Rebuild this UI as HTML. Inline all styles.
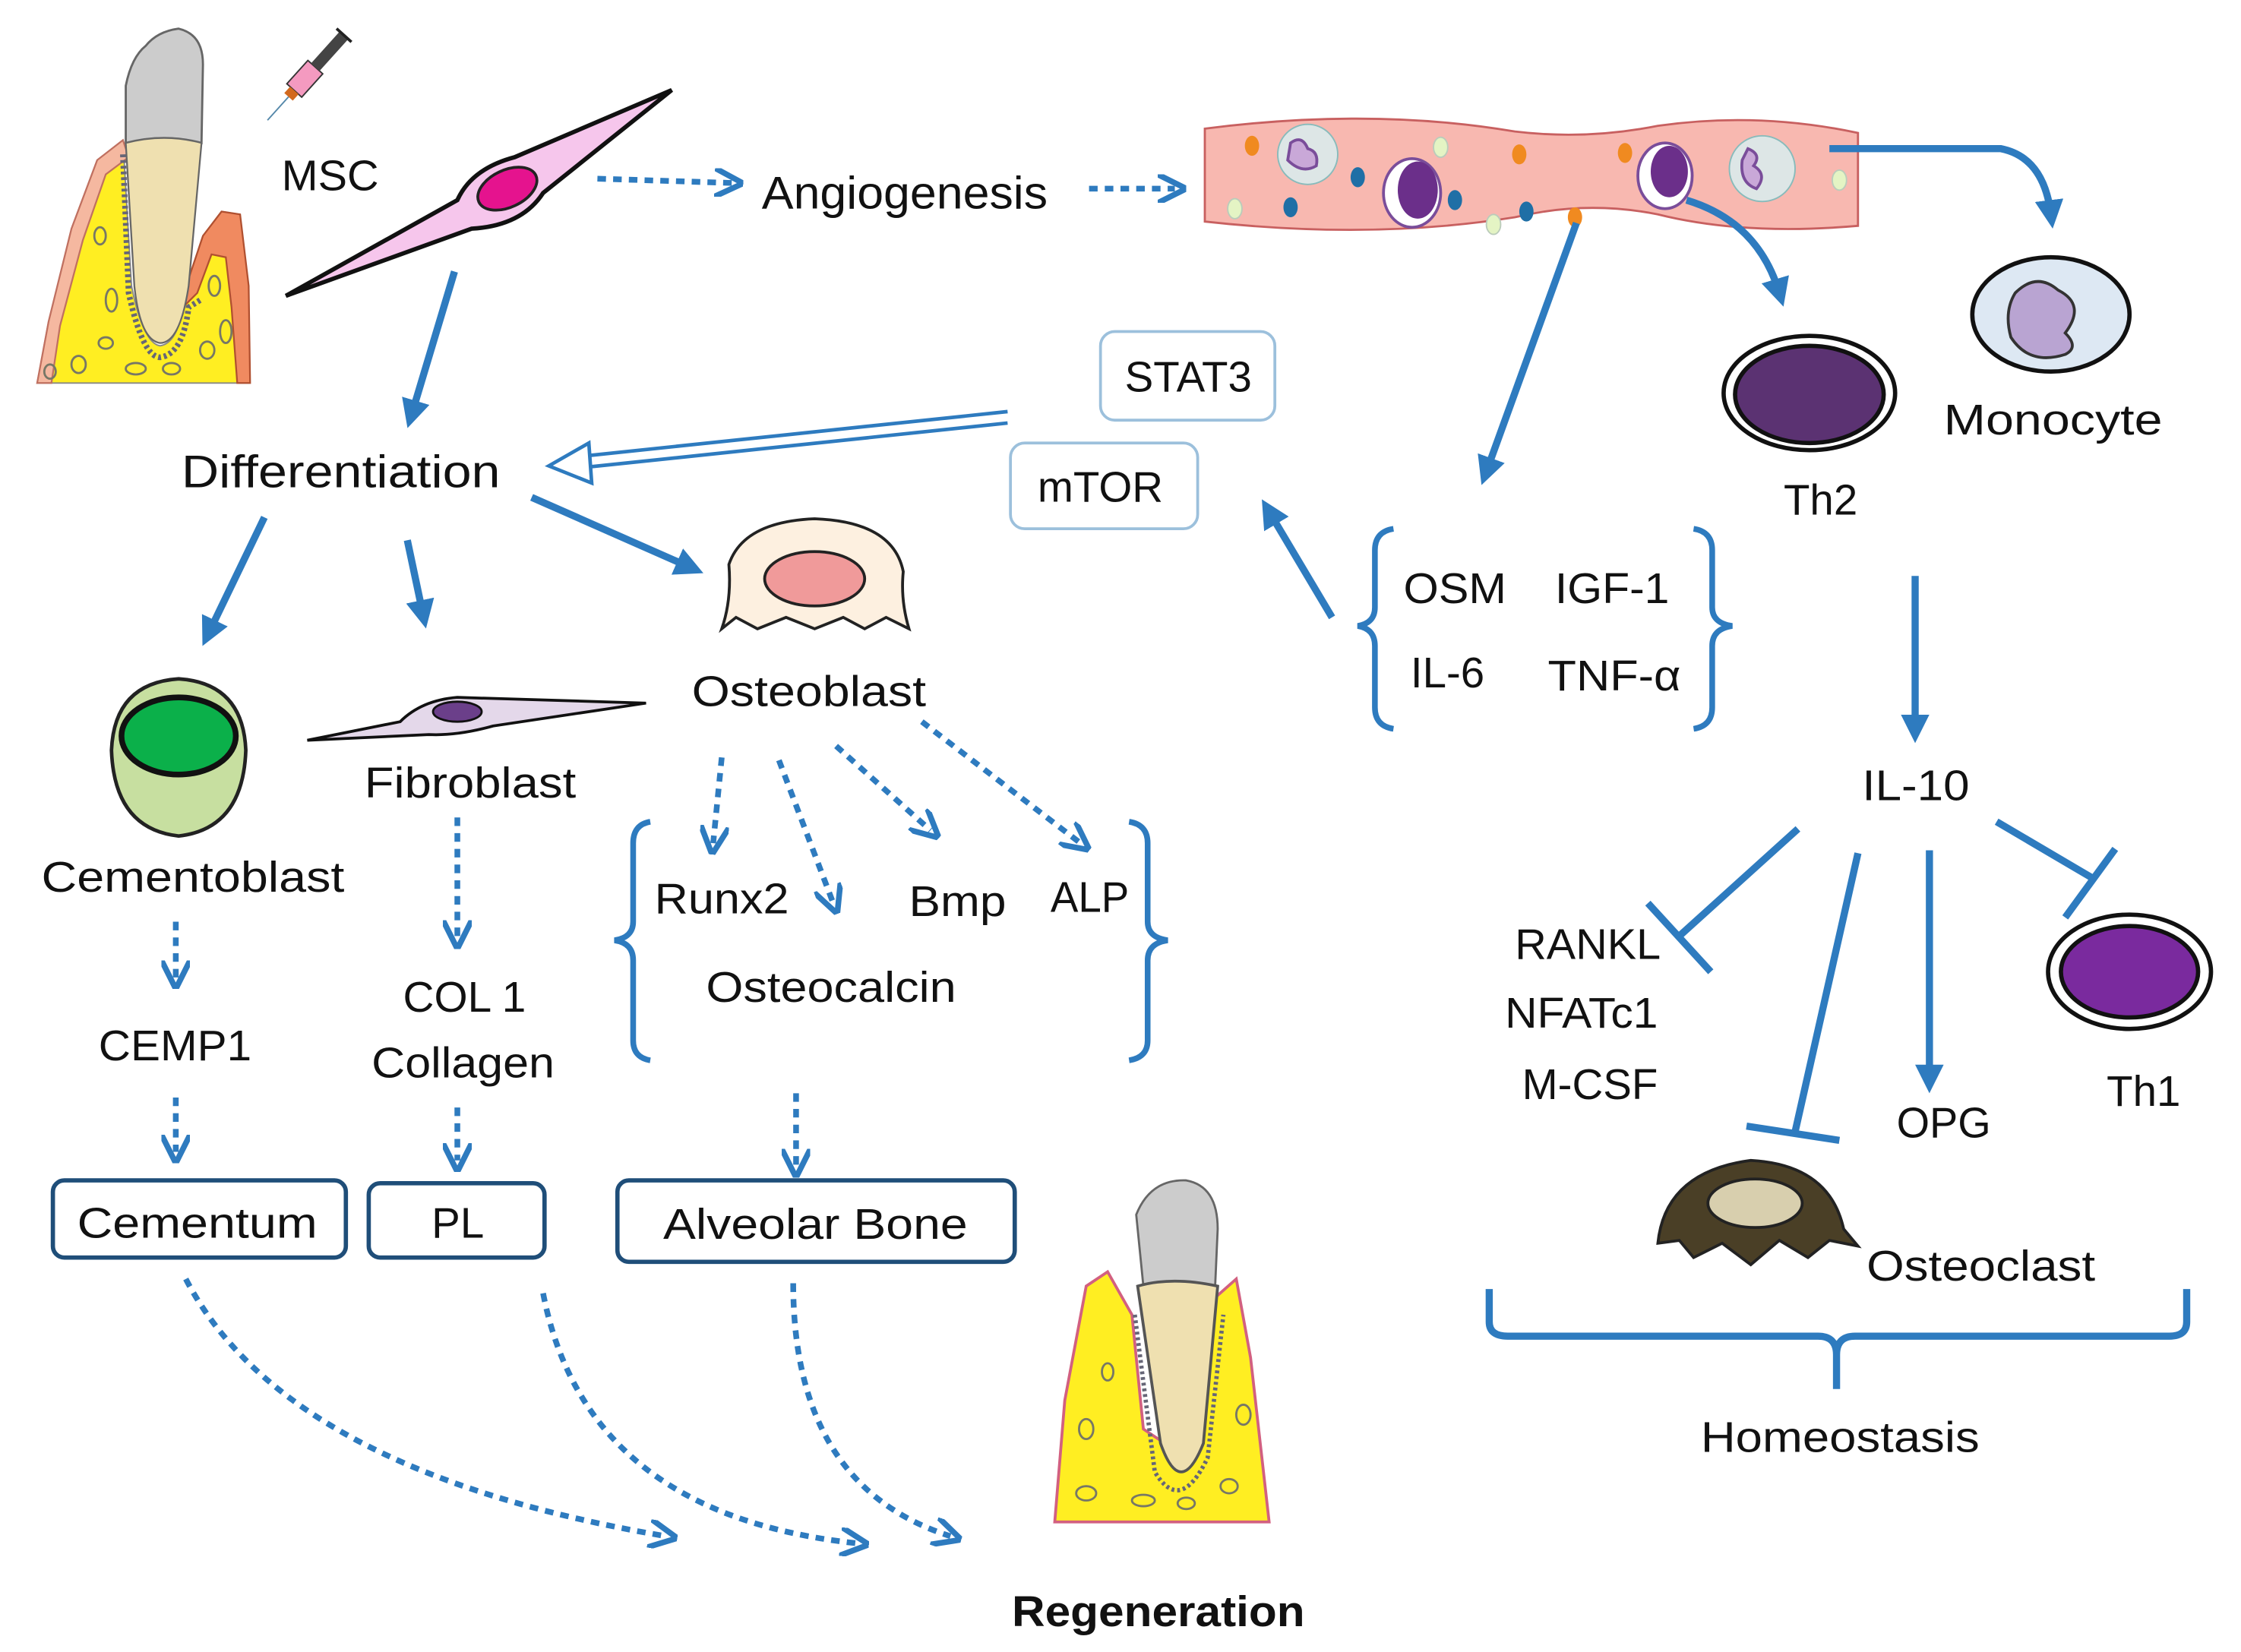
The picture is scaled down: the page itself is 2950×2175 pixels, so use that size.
<!DOCTYPE html>
<html><head><meta charset="utf-8"><style>
html,body{margin:0;padding:0;background:#fff;}
svg{display:block;}
text{font-family:"Liberation Sans",sans-serif;fill:#111;}
</style></head><body>
<svg width="2950" height="2175" viewBox="0 0 1568 1156" xmlns="http://www.w3.org/2000/svg">
<defs>
<marker id="ah" viewBox="0 0 10 10" refX="5" refY="5" markerWidth="4" markerHeight="4" orient="auto"><path d="M0,0 L10,5 L0,10 z" fill="#2e7bbf"/></marker>
<marker id="ao" viewBox="0 0 10 10" refX="6" refY="5" markerWidth="5" markerHeight="5" orient="auto"><path d="M0,0 L10,5 L0,10" fill="none" stroke="#2e7bbf" stroke-width="2"/></marker>
</defs>
<rect width="1568" height="1156" fill="#fff"/>

<!-- top-left tooth -->
<g>
<path d="M26,268 L34,225 L50,160 L68,112 L86,98 L92,200 Q100,240 112,242 Q124,240 128,215 L132,195 L142,165 L155,148 L168,150 L174,268 Z" fill="#ffee22" stroke="#888" stroke-width="1"/>
<path d="M26,268 L34,225 L50,160 L68,112 L86,98 L90,110 L74,122 L58,168 L42,228 L36,268 Z" fill="#f5b8a0" stroke="#c07060" stroke-width="1.2"/>
<path d="M128,215 L132,195 L142,165 L155,148 L168,150 L174,200 L175,268 L166,268 L162,215 L158,180 L148,178 L138,205 Z" fill="#f08a60" stroke="#b05030" stroke-width="1.2"/>
<path d="M88,100 L88,60 Q92,40 102,32 Q110,22 125,20 Q142,24 142,45 L141,100 Q115,93 88,100 Z" fill="#cccccc" stroke="#666" stroke-width="1.5"/>
<path d="M88,100 Q115,93 141,100 L132,200 Q126,240 112,240 Q98,238 94,200 Z" fill="#efe0b0" stroke="#666" stroke-width="1.2"/>
<path d="M86,108 L90,205 Q100,250 112,250 Q128,248 132,215 L140,210" fill="none" stroke="#667" stroke-width="4" stroke-dasharray="2 2"/>
<g fill="none" stroke="#776" stroke-width="1.5">
<ellipse cx="78" cy="210" rx="4" ry="8"/><ellipse cx="70" cy="165" rx="4" ry="6"/><ellipse cx="74" cy="240" rx="5" ry="4"/><ellipse cx="55" cy="255" rx="5" ry="6"/><ellipse cx="150" cy="200" rx="4" ry="7"/><ellipse cx="145" cy="245" rx="5" ry="6"/><ellipse cx="158" cy="232" rx="4" ry="8"/><ellipse cx="95" cy="258" rx="7" ry="4"/><ellipse cx="120" cy="258" rx="6" ry="4"/><ellipse cx="35" cy="260" rx="4" ry="5"/>
</g>
</g>
<!-- syringe -->
<g transform="translate(212,58) rotate(-48)">
<rect x="-8" y="-8" width="22" height="14" fill="#f49ac0" stroke="#333" stroke-width="1"/>
<rect x="14" y="-5" width="30" height="8" fill="#444"/>
<line x1="44" y1="-8" x2="44" y2="6" stroke="#222" stroke-width="2"/>
<rect x="-14" y="-5" width="6" height="8" fill="#d2691e"/>
<line x1="-14" y1="-1" x2="-36" y2="-1" stroke="#58a" stroke-width="1"/>
</g>

<text x="197" y="133" font-size="30" textLength="68" lengthAdjust="spacingAndGlyphs">MSC</text>
<!-- MSC cell -->
<path d="M200,207 L320,140 Q330,118 360,110 L470,63 L380,135 Q365,158 330,160 Z" fill="#f6c6ec" stroke="#111" stroke-width="3"/>
<ellipse cx="355" cy="132" rx="22" ry="13" transform="rotate(-25 355 132)" fill="#e5138e" stroke="#222" stroke-width="2"/>

<!-- angiogenesis -->
<line x1="418" y1="125" x2="512" y2="128" stroke="#2e7bbf" stroke-width="4" stroke-dasharray="6 5" marker-end="url(#ao)"/>
<text x="533" y="146" font-size="32" textLength="200" lengthAdjust="spacingAndGlyphs">Angiogenesis</text>
<line x1="762" y1="132" x2="822" y2="132" stroke="#2e7bbf" stroke-width="4" stroke-dasharray="6 5" marker-end="url(#ao)"/>

<!-- vessel -->
<path d="M843,90 Q960,75 1060,92 Q1110,98 1160,88 Q1230,78 1300,93 L1300,158 Q1220,165 1160,150 Q1110,140 1060,152 Q960,168 843,155 Z" fill="#f8b8b0" stroke="#c86060" stroke-width="1.5"/>
<g>
<circle cx="915" cy="108" r="21" fill="#dde6e6" stroke="#8bb"/>
<path d="M903,100 q8,-6 12,4 q8,2 6,12 q-10,6 -20,-4 z" fill="#c9a8d8" stroke="#7a4d9a" stroke-width="2"/>
<ellipse cx="988" cy="135" rx="20" ry="24" fill="#fff" stroke="#7a4d9a" stroke-width="2"/>
<ellipse cx="992" cy="133" rx="14" ry="20" fill="#6b2f8a"/>
<ellipse cx="1165" cy="123" rx="19" ry="23" fill="#fff" stroke="#7a4d9a" stroke-width="2"/>
<ellipse cx="1168" cy="120" rx="13" ry="18" fill="#6b2f8a"/>
<circle cx="1233" cy="118" r="23" fill="#dde6e6" stroke="#8bb"/>
<path d="M1223,104 q10,4 4,12 q10,6 2,16 q-12,-4 -10,-20 z" fill="#c9a8d8" stroke="#7a4d9a" stroke-width="2"/>
<g fill="#f08a20"><ellipse cx="876" cy="102" rx="5" ry="7"/><ellipse cx="1063" cy="108" rx="5" ry="7"/><ellipse cx="1137" cy="107" rx="5" ry="7"/><ellipse cx="1102" cy="152" rx="5" ry="7"/></g>
<g fill="#1f6fa6"><ellipse cx="950" cy="124" rx="5" ry="7"/><ellipse cx="903" cy="145" rx="5" ry="7"/><ellipse cx="1018" cy="140" rx="5" ry="7"/><ellipse cx="1068" cy="148" rx="5" ry="7"/></g>
<g fill="#e4f4c4" stroke="#bcb"><ellipse cx="1008" cy="103" rx="5" ry="7"/><ellipse cx="864" cy="146" rx="5" ry="7"/><ellipse cx="1045" cy="157" rx="5" ry="7"/><ellipse cx="1287" cy="126" rx="5" ry="7"/></g>
</g>

<!-- monocyte / th2 arrows -->
<path d="M1280,104 L1400,104 Q1430,110 1435,150" fill="none" stroke="#2e7bbf" stroke-width="5" marker-end="url(#ah)"/>
<path d="M1180,140 Q1230,155 1245,205" fill="none" stroke="#2e7bbf" stroke-width="5" marker-end="url(#ah)"/>
<ellipse cx="1435" cy="220" rx="55" ry="40" fill="#dde8f3" stroke="#111" stroke-width="3"/>
<path d="M1410,205 q15,-15 30,-2 q20,10 5,30 q10,10 0,15 q-25,8 -38,-12 q-5,-18 3,-31 z" fill="#b9a4d2" stroke="#333" stroke-width="2"/>
<text x="1360" y="304" font-size="30" textLength="153" lengthAdjust="spacingAndGlyphs">Monocyte</text>
<ellipse cx="1266" cy="275" rx="60" ry="40" fill="#fff" stroke="#111" stroke-width="3"/>
<ellipse cx="1266" cy="276" rx="52" ry="34" fill="#5b3272" stroke="#111" stroke-width="3"/>
<text x="1248" y="360" font-size="30">Th2</text>

<line x1="1103" y1="156" x2="1040" y2="330" stroke="#2e7bbf" stroke-width="5" marker-end="url(#ah)"/>

<!-- STAT3 / mTOR -->
<rect x="770" y="232" width="122" height="62" rx="10" fill="#fff" stroke="#9cc0dc" stroke-width="2"/>
<text x="787" y="274" font-size="30">STAT3</text>
<rect x="707" y="310" width="131" height="60" rx="10" fill="#fff" stroke="#9cc0dc" stroke-width="2"/>
<text x="726" y="351" font-size="30">mTOR</text>
<path d="M705,288 L400,320 M705,296 L400,328" stroke="#2e7bbf" stroke-width="2.5" fill="none"/>
<path d="M384,326 L412,310 L414,338 Z" fill="#fff" stroke="#2e7bbf" stroke-width="2.5"/>

<!-- OSM bracket -->
<path d="M975,370 Q962,372 962,385 L962,425 Q962,436 950,438 Q962,440 962,452 L962,495 Q962,508 975,510" fill="none" stroke="#2e7bbf" stroke-width="4"/>
<path d="M1185,370 Q1198,372 1198,385 L1198,425 Q1198,436 1212,438 Q1198,440 1198,452 L1198,495 Q1198,508 1185,510" fill="none" stroke="#2e7bbf" stroke-width="4"/>
<text x="982" y="422" font-size="30" textLength="72" lengthAdjust="spacingAndGlyphs">OSM</text>
<text x="1088" y="422" font-size="30" textLength="80" lengthAdjust="spacingAndGlyphs">IGF-1</text>
<text x="987" y="481" font-size="30">IL-6</text>
<text x="1083" y="483" font-size="30" textLength="93" lengthAdjust="spacingAndGlyphs">TNF-α</text>
<line x1="932" y1="432" x2="888" y2="358" stroke="#2e7bbf" stroke-width="5" marker-end="url(#ah)"/>

<!-- Differentiation -->
<text x="127" y="341" font-size="32" textLength="223" lengthAdjust="spacingAndGlyphs">Differentiation</text>
<line x1="318" y1="190" x2="288" y2="290" stroke="#2e7bbf" stroke-width="5" marker-end="url(#ah)"/>
<line x1="185" y1="362" x2="146" y2="443" stroke="#2e7bbf" stroke-width="5" marker-end="url(#ah)"/>
<line x1="285" y1="378" x2="296" y2="430" stroke="#2e7bbf" stroke-width="5" marker-end="url(#ah)"/>
<line x1="372" y1="348" x2="483" y2="397" stroke="#2e7bbf" stroke-width="5" marker-end="url(#ah)"/>

<!-- Osteoblast -->
<path d="M510,395 Q520,365 570,363 Q625,365 632,400 Q630,420 636,440 L620,432 L605,440 L590,432 L570,440 L550,432 L530,440 L515,432 L505,440 Q512,420 510,395 Z" fill="#fdf0e0" stroke="#222" stroke-width="2"/>
<ellipse cx="570" cy="405" rx="35" ry="19" fill="#f09a9a" stroke="#222" stroke-width="2"/>
<text x="484" y="494" font-size="30" textLength="164" lengthAdjust="spacingAndGlyphs">Osteoblast</text>

<!-- Cementoblast -->
<path d="M125,475 Q170,478 172,525 Q170,580 125,585 Q80,580 78,525 Q80,478 125,475 Z" fill="#c7dfa0" stroke="#222" stroke-width="2.5"/>
<ellipse cx="125" cy="515" rx="40" ry="27" fill="#0bb04a" stroke="#111" stroke-width="4"/>
<text x="29" y="624" font-size="30" textLength="212" lengthAdjust="spacingAndGlyphs">Cementoblast</text>

<!-- Fibroblast -->
<path d="M215,518 L280,505 Q295,490 320,488 L452,492 L345,508 Q320,515 300,514 Z" fill="#e4d8ea" stroke="#111" stroke-width="2"/>
<ellipse cx="320" cy="498" rx="17" ry="7" fill="#6b3f8a" stroke="#111" stroke-width="1.5"/>
<text x="255" y="558" font-size="30" textLength="148" lengthAdjust="spacingAndGlyphs">Fibroblast</text>

<!-- left chains -->
<g stroke="#2e7bbf" stroke-width="4" stroke-dasharray="6 5" fill="none">
<line x1="123" y1="645" x2="123" y2="684" marker-end="url(#ao)"/>
<line x1="123" y1="768" x2="123" y2="806" marker-end="url(#ao)"/>
<line x1="320" y1="572" x2="320" y2="656" marker-end="url(#ao)"/>
<line x1="320" y1="775" x2="320" y2="812" marker-end="url(#ao)"/>
<line x1="557" y1="765" x2="557" y2="816" marker-end="url(#ao)"/>
<line x1="505" y1="530" x2="499" y2="590" marker-end="url(#ao)"/>
<line x1="545" y1="532" x2="583" y2="632" marker-end="url(#ao)"/>
<line x1="585" y1="522" x2="651" y2="581" marker-end="url(#ao)"/>
<line x1="645" y1="505" x2="756" y2="590" marker-end="url(#ao)"/>
<path d="M130,895 Q200,1030 466,1075" marker-end="url(#ao)"/>
<path d="M380,905 Q410,1060 600,1080" marker-end="url(#ao)"/>
<path d="M555,898 Q555,1040 665,1075" marker-end="url(#ao)"/>
</g>
<text x="69" y="742" font-size="30" textLength="107" lengthAdjust="spacingAndGlyphs">CEMP1</text>
<text x="282" y="708" font-size="30" textLength="86" lengthAdjust="spacingAndGlyphs">COL 1</text>
<text x="260" y="754" font-size="30" textLength="128" lengthAdjust="spacingAndGlyphs">Collagen</text>
<rect x="37" y="826" width="205" height="54" rx="8" fill="#fff" stroke="#1f4e79" stroke-width="3"/>
<text x="54" y="866" font-size="30" textLength="168" lengthAdjust="spacingAndGlyphs">Cementum</text>
<rect x="258" y="828" width="123" height="52" rx="8" fill="#fff" stroke="#1f4e79" stroke-width="3"/>
<text x="302" y="866" font-size="30">PL</text>
<rect x="432" y="826" width="278" height="57" rx="8" fill="#fff" stroke="#1f4e79" stroke-width="3"/>
<text x="464" y="867" font-size="30" textLength="213" lengthAdjust="spacingAndGlyphs">Alveolar Bone</text>

<!-- runx bracket -->
<path d="M455,575 Q443,577 443,590 L443,645 Q443,656 430,658 Q443,660 443,672 L443,728 Q443,740 455,742" fill="none" stroke="#2e7bbf" stroke-width="4"/>
<path d="M790,575 Q803,577 803,590 L803,645 Q803,656 817,658 Q803,660 803,672 L803,728 Q803,740 790,742" fill="none" stroke="#2e7bbf" stroke-width="4"/>
<text x="458" y="639" font-size="30" textLength="94" lengthAdjust="spacingAndGlyphs">Runx2</text>
<text x="636" y="641" font-size="30" textLength="68" lengthAdjust="spacingAndGlyphs">Bmp</text>
<text x="735" y="638" font-size="30" textLength="55" lengthAdjust="spacingAndGlyphs">ALP</text>
<text x="494" y="701" font-size="30" textLength="175" lengthAdjust="spacingAndGlyphs">Osteocalcin</text>

<!-- right: IL-10 -->
<line x1="1340" y1="403" x2="1340" y2="510" stroke="#2e7bbf" stroke-width="5" marker-end="url(#ah)"/>
<text x="1303" y="560" font-size="30" textLength="75" lengthAdjust="spacingAndGlyphs">IL-10</text>
<g stroke="#2e7bbf" stroke-width="5" fill="none">
<line x1="1258" y1="580" x2="1175" y2="655"/><line x1="1153" y1="632" x2="1197" y2="680"/>
<line x1="1300" y1="597" x2="1256" y2="792"/><line x1="1222" y1="788" x2="1287" y2="798"/>
<line x1="1397" y1="575" x2="1465" y2="615"/><line x1="1445" y1="642" x2="1480" y2="594"/>
<line x1="1350" y1="595" x2="1350" y2="755" marker-end="url(#ah)"/>
</g>
<text x="1060" y="671" font-size="30" textLength="102" lengthAdjust="spacingAndGlyphs">RANKL</text>
<text x="1053" y="719" font-size="30" textLength="107" lengthAdjust="spacingAndGlyphs">NFATc1</text>
<text x="1065" y="769" font-size="30" textLength="95" lengthAdjust="spacingAndGlyphs">M-CSF</text>
<text x="1327" y="796" font-size="30" textLength="66" lengthAdjust="spacingAndGlyphs">OPG</text>
<text x="1474" y="774" font-size="30">Th1</text>
<ellipse cx="1490" cy="680" rx="57" ry="40" fill="#fff" stroke="#111" stroke-width="3"/>
<ellipse cx="1490" cy="680" rx="48" ry="32" fill="#7a2a9e" stroke="#111" stroke-width="3"/>
<!-- osteoclast -->
<path d="M1160,870 Q1165,820 1225,812 Q1280,815 1290,860 L1300,872 L1280,868 L1265,880 L1245,868 L1225,885 L1205,870 L1185,880 L1175,868 Z" fill="#4a3f26" stroke="#222" stroke-width="2"/>
<ellipse cx="1228" cy="842" rx="33" ry="17" fill="#d8cfae" stroke="#222" stroke-width="2"/>
<text x="1306" y="896" font-size="30" textLength="160" lengthAdjust="spacingAndGlyphs">Osteoclast</text>
<path d="M1042,902 L1042,925 Q1042,935 1055,935 L1272,935 Q1285,935 1285,948 L1285,972 M1285,948 Q1285,935 1298,935 L1518,935 Q1530,935 1530,925 L1530,902" fill="none" stroke="#2e7bbf" stroke-width="5"/>
<text x="1190" y="1016" font-size="30" textLength="195" lengthAdjust="spacingAndGlyphs">Homeostasis</text>

<!-- bottom tooth -->
<g>
<path d="M738,1065 L745,980 L760,900 L775,890 L792,920 L800,1000 L815,1010 L835,985 L848,910 L865,895 L875,950 L888,1065 Z" fill="#ffee22" stroke="#d26080" stroke-width="2"/>
<path d="M800,900 L795,850 Q805,825 830,826 Q852,830 852,860 L850,905 Z" fill="#ccc" stroke="#666" stroke-width="1.5"/>
<path d="M796,900 Q820,893 852,900 L842,1010 Q826,1050 812,1010 Z" fill="#efe0b0" stroke="#555" stroke-width="2"/>
<path d="M794,920 L808,1030 Q826,1060 845,1020 L856,920" fill="none" stroke="#667" stroke-width="3" stroke-dasharray="2 2"/>
<g fill="none" stroke="#776" stroke-width="1.5">
<ellipse cx="760" cy="1000" rx="5" ry="7"/><ellipse cx="775" cy="960" rx="4" ry="6"/><ellipse cx="870" cy="990" rx="5" ry="7"/><ellipse cx="860" cy="1040" rx="6" ry="5"/><ellipse cx="760" cy="1045" rx="7" ry="5"/><ellipse cx="800" cy="1050" rx="8" ry="4"/><ellipse cx="830" cy="1052" rx="6" ry="4"/>
</g>
</g>
<text x="708" y="1138" font-size="30" font-weight="bold" textLength="205" lengthAdjust="spacingAndGlyphs">Regeneration</text>
</svg>
</body></html>
